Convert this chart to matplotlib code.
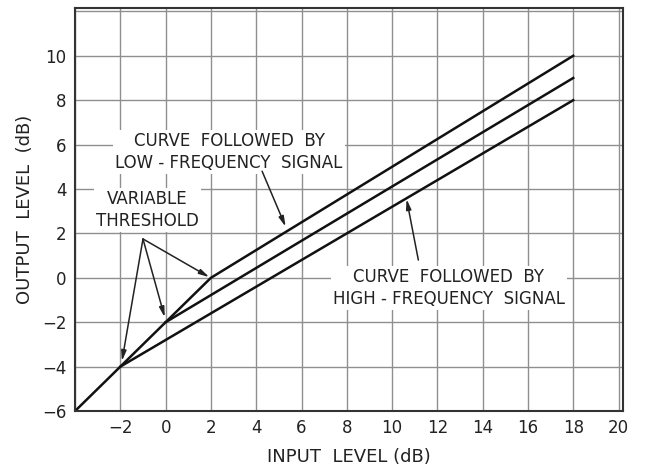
import matplotlib
matplotlib.use("Agg")
import matplotlib.pyplot as plt

# Data
low_x = [-4, -2, 0, 2, 18]      # curve followed by low-frequency signal
low_y = [-6, -4, -2, 0, 10]
mid_x = [0, 18]
mid_y = [-2, 9]
high_x = [-2, 18]               # curve followed by high-frequency signal
high_y = [-4, 8]
threshold_x = [-1.93, -0.04, 1.93]
threshold_y = [-3.75, -1.78, 0.03]
x_ticks = [-2, 0, 2, 4, 6, 8, 10, 12, 14, 16, 18, 20]
y_ticks = [-6, -4, -2, 0, 2, 4, 6, 8, 10]

plt.rcParams['font.family'] = ['DejaVu Sans']
fig = plt.figure(figsize=(6.47, 4.73), dpi=100)
ax = fig.add_axes([0.116, 0.131, 0.847, 0.852])

ax.set_xlim(-4, 20.2)
ax.set_ylim(-6, 12.15)
ax.set_xticks(x_ticks)
ax.set_yticks(y_ticks)
fs = 12
ax.set_xticklabels([str(v) if v >= 0 else "\u2212" + str(-v) for v in x_ticks], fontsize=fs, color='#222222')
ax.set_yticklabels([str(v) if v >= 0 else "\u2212" + str(-v) for v in y_ticks], fontsize=fs, color='#222222')
ax.tick_params(which='both', length=0, pad=6)
ax.set_xticks([-4], minor=True)
ax.set_yticks([12], minor=True)
ax.grid(True, which='both', color='#8f8f8f', linewidth=1.0)
ax.set_axisbelow(True)
for s in ax.spines.values():
    s.set_color('#333333')
    s.set_linewidth(1.5)
    s.set_zorder(6)

lw = 1.8
ax.plot(low_x, low_y, color='#111111', lw=lw, zorder=3)
ax.plot(mid_x, mid_y, color='#111111', lw=lw, zorder=3)
ax.plot(high_x, high_y, color='#111111', lw=lw, zorder=3)

tb = dict(facecolor='white', edgecolor='none', pad=1.5)
ax.text(2.8, 5.67, "CURVE  FOLLOWED  BY\nLOW - FREQUENCY  SIGNAL", ha='center', va='center',
        fontsize=fs, color='#222222', linespacing=1.25, bbox=tb, zorder=4)
ax.text(-0.8, 3.06, "VARIABLE\nTHRESHOLD", ha='center', va='center',
        fontsize=fs, color='#222222', linespacing=1.25, bbox=tb, zorder=4)
ax.text(12.5, -0.45, "CURVE  FOLLOWED  BY\nHIGH - FREQUENCY  SIGNAL", ha='center', va='center',
        fontsize=fs, color='#222222', linespacing=1.25, bbox=tb, zorder=4)

ap = dict(arrowstyle='-|>,head_length=0.6,head_width=0.15', color='#222222', lw=1.1,
          shrinkA=0, shrinkB=0)
for tx, ty in zip(threshold_x, threshold_y):
    ax.annotate("", xy=(tx, ty), xytext=(-1.0, 1.75), arrowprops=ap, zorder=5)
ax.annotate("", xy=(5.3, 2.3), xytext=(4.26, 4.8), arrowprops=ap, zorder=5)
ax.annotate("", xy=(10.64, 3.55), xytext=(11.16, 0.8), arrowprops=ap, zorder=5)

ax.set_xlabel("INPUT  LEVEL (dB)", fontsize=13, color='#222222', labelpad=8)
ax.set_ylabel("OUTPUT  LEVEL  (dB)", fontsize=13, color='#222222', labelpad=6)

fig.savefig("out.png", dpi=100)
